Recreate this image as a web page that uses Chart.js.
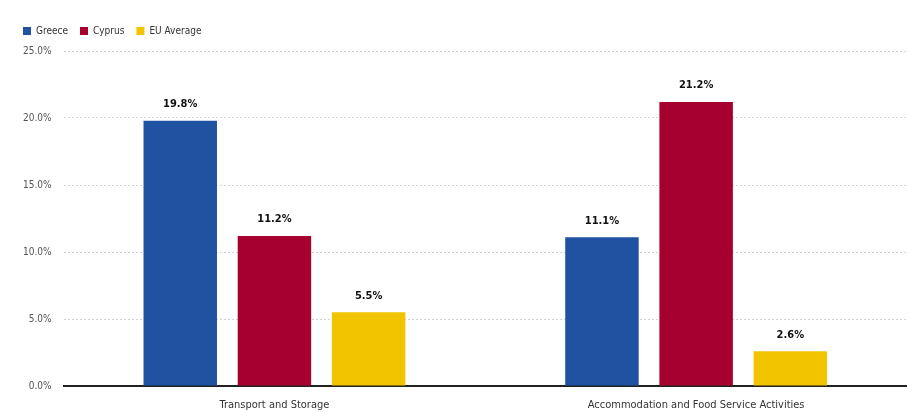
<!DOCTYPE html>
<html lang="en">
<head>
  <meta charset="UTF-8" />
  <title>Sector share chart</title>
  <script src="https://cdn.jsdelivr.net/npm/chart.js"></script>
  <style>
    html, body {
      margin: 0;
      padding: 0;
      background: #fff;
    }
    #wrap {
      position: relative;
      width: 907px;
      height: 412px;
    }
  </style>
</head>
<body>
  <div id="wrap">
    <canvas id="sectorChart"></canvas>
  </div>

  <script>
    const categories = ['Transport and Storage', 'Accommodation and Food Service Activities'];
    const seriesNames = ['Greece', 'Cyprus', 'EU Average'];
    const greece = [19.8, 11.1];
    const cyprus = [11.2, 21.2];
    const euAverage = [5.5, 2.6];
    const yTicks = [0, 5, 10, 15, 20, 25];

    const colors = ['#1f52a0', '#a5002e', '#f2c400'];
    const fontFamily = "'Liberation Sans Narrow', 'Arial Narrow', 'DejaVu Sans Condensed', sans-serif";

    // labels above each bar
    const valueLabels = {
      id: 'valueLabels',
      afterDatasetsDraw(chart) {
        const ctx = chart.ctx;
        ctx.save();
        ctx.font = "bold 11px " + fontFamily;
        ctx.fillStyle = '#111';
        ctx.textAlign = 'center';
        ctx.textBaseline = 'bottom';
        chart.data.datasets.forEach((ds, i) => {
          chart.getDatasetMeta(i).data.forEach((bar, j) => {
            ctx.fillText(ds.data[j].toFixed(1) + '%', bar.x, bar.y - 11);
          });
        });
        ctx.restore();
      }
    };

    // a bit more room below the legend
    const legendGap = {
      id: 'legendGap',
      beforeUpdate(chart) {
        const lg = chart.legend;
        if (lg && !lg._gapSet) {
          const fit = lg.fit;
          lg.fit = function () { fit.call(this); this.height += 5; };
          lg._gapSet = true;
        }
      }
    };

    new Chart(document.getElementById('sectorChart'), {
      type: 'bar',
      data: {
        labels: categories,
        datasets: [
          { label: seriesNames[0], data: greece, backgroundColor: colors[0] },
          { label: seriesNames[1], data: cyprus, backgroundColor: colors[1] },
          { label: seriesNames[2], data: euAverage, backgroundColor: colors[2] }
        ]
      },
      options: {
        responsive: true,
        maintainAspectRatio: false,
        animation: false,
        layout: { padding: { top: 14, left: 11, right: 0, bottom: 0 } },
        datasets: {
          bar: { barPercentage: 0.78, categoryPercentage: 0.67 }
        },
        plugins: {
          legend: {
            position: 'top',
            align: 'start',
            labels: {
              boxWidth: 8,
              boxHeight: 8,
              padding: 12,
              color: '#333',
              font: { family: fontFamily, size: 10 }
            }
          },
          tooltip: { enabled: false }
        },
        scales: {
          x: {
            afterFit(axis) { axis.height = 26; },
            grid: { display: false, drawTicks: false },
            border: { color: '#222', width: 2 },
            ticks: { color: '#333', maxRotation: 0, font: { family: fontFamily, size: 11, lineHeight: 1 }, padding: 14 }
          },
          y: {
            min: 0,
            max: 25,
            afterBuildTicks(axis) { axis.ticks = yTicks.map(v => ({ value: v })); },
            grid: { color: '#d4d4d4', drawTicks: false },
            border: { display: false, dash: [2, 2] },
            ticks: {
              color: '#555',
              padding: 12,
              font: { family: fontFamily, size: 10 },
              callback: v => v.toFixed(1) + '%'
            }
          }
        }
      },
      plugins: [valueLabels, legendGap]
    });
  </script>
</body>
</html>
